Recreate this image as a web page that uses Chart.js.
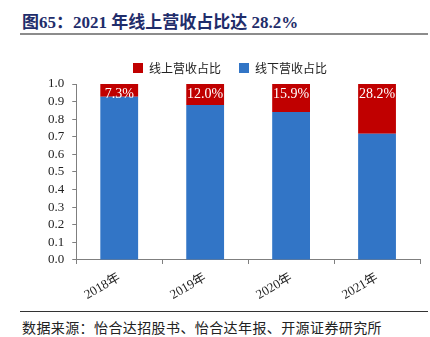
<!DOCTYPE html>
<html>
<head>
<meta charset="utf-8">
<script src="https://cdn.jsdelivr.net/npm/chart.js@4.4.0/dist/chart.umd.min.js"></script>
<style>
  body { margin: 0; background: #fff; }
  #wrap { position: relative; width: 430px; height: 337px; overflow: hidden; }
  #title { position: absolute; left: 22px; top: 8px; font: bold 17px "Liberation Serif", "Noto Sans CJK SC", serif; color: #1f2d6b; white-space: nowrap; }
  #titleLine { position: absolute; left: 20px; top: 33px; width: 408px; height: 2px; background: #8c8c8c; }
  #srcLine { position: absolute; left: 20px; top: 311px; width: 408px; height: 1px; background: #333; }
  #source { position: absolute; left: 22px; top: 317px; font: 14px "Noto Sans CJK SC", sans-serif; color: #222; letter-spacing: 0.4px; white-space: nowrap; }
  #chartBox { position: absolute; left: 0; top: 40px; width: 430px; height: 269px; }
</style>
</head>
<body>
<div id="wrap">
  <div id="title">图65：2021 年线上营收占比达 28.2%</div>
  <div id="titleLine"></div>
  <div id="chartBox"><canvas id="chart"></canvas></div>
  <div id="srcLine"></div>
  <div id="source">数据来源：怡合达招股书、怡合达年报、开源证券研究所</div>
</div>
<script>
// data
const years = ["2018年", "2019年", "2020年", "2021年"];
const onlineShare = [0.073, 0.120, 0.159, 0.282];
const offlineShare = [0.927, 0.880, 0.841, 0.718];
const onlineLabels = ["7.3%", "12.0%", "15.9%", "28.2%"];

// white percentage text on top of the red part
const topLabels = {
  id: "topLabels",
  afterDatasetsDraw(chart) {
    const ctx = chart.ctx;
    const meta = chart.getDatasetMeta(1);
    ctx.save();
    ctx.fillStyle = "#ffffff";
    ctx.font = "14px 'Liberation Serif', serif";
    ctx.textAlign = "center";
    ctx.textBaseline = "top";
    meta.data.forEach((bar, i) => {
      ctx.fillText(onlineLabels[i], bar.x, bar.y + 3);
    });
    ctx.restore();
  }
};

const ctx = document.getElementById("chart").getContext("2d");
new Chart(ctx, {
  type: "bar",
  data: {
    labels: years,
    datasets: [
      {
        label: "线下营收占比",
        data: offlineShare,
        backgroundColor: "#3275c6",
        categoryPercentage: 1.0,
        barPercentage: 0.44
      },
      {
        label: "线上营收占比",
        data: onlineShare,
        backgroundColor: "#c00000",
        categoryPercentage: 1.0,
        barPercentage: 0.44
      }
    ]
  },
  options: {
    responsive: true,
    maintainAspectRatio: false,
    animation: false,
    layout: { padding: { left: 40, right: 10, top: 4, bottom: 0 } },
    scales: {
      x: {
        stacked: true,
        grid: { drawOnChartArea: false, tickLength: 4, color: "#7f7f7f" },
        border: { color: "#7f7f7f" },
        ticks: {
          color: "#222",
          font: { family: "'Liberation Serif', 'Noto Sans CJK SC', serif", size: 13 },
          minRotation: 30,
          maxRotation: 30,
          padding: 6
        }
      },
      y: {
        stacked: true,
        min: 0,
        max: 1,
        grid: { drawOnChartArea: false, tickLength: 4, color: "#7f7f7f" },
        border: { color: "#7f7f7f" },
        ticks: {
          stepSize: 0.1,
          autoSkip: false,
          color: "#222",
          font: { family: "'Liberation Serif', serif", size: 13 },
          padding: 8,
          callback: (v) => Number(v).toFixed(1)
        }
      }
    },
    plugins: {
      legend: {
        reverse: true,
        labels: {
          boxWidth: 10,
          boxHeight: 10,
          padding: 18,
          color: "#222",
          font: { family: "'Noto Sans CJK SC', sans-serif", size: 12 }
        }
      },
      tooltip: { enabled: false }
    }
  },
  plugins: [topLabels]
});
</script>
</body>
</html>
